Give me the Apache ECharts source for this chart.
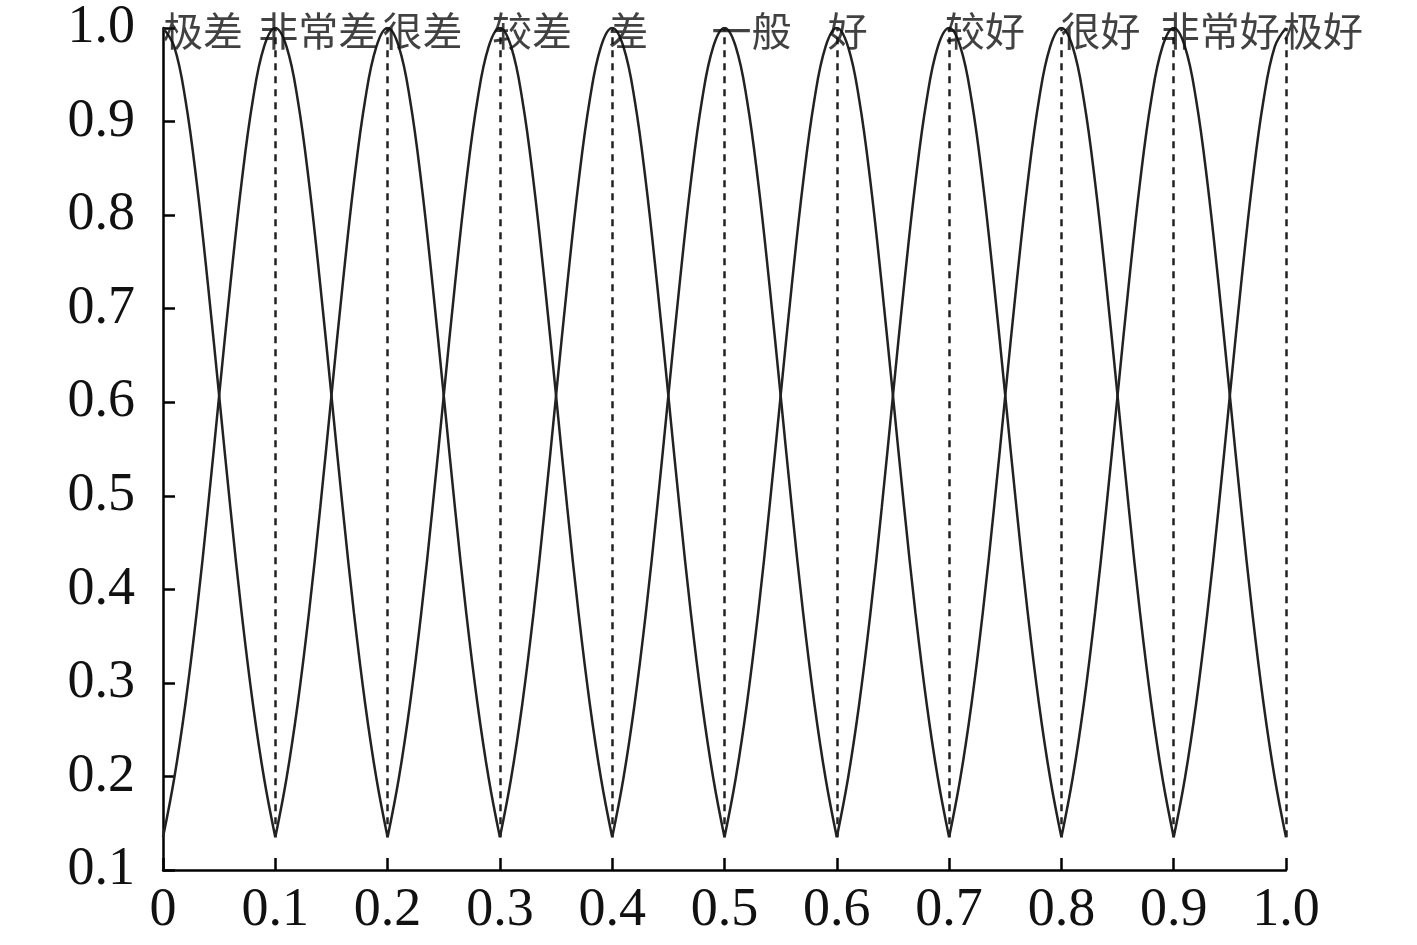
<!DOCTYPE html>
<html>
	<head>
		<meta charset="utf-8">
		<title>评价等级云图</title>
		<script src="https://cdn.jsdelivr.net/npm/echarts@6/dist/echarts.min.js" type="text/javascript" charset="utf-8"></script>
	</head>

	<body style="margin:0;padding:0;background:#fff;">
		<div id="cloud" style="width:1417px;height:945px;"></div>
		<script type="text/javascript">
			// 等级名称与各云的中心
			var levels = ['极差', '非常差', '很差', '较差', '差', '一般', '好', '较好', '很好', '非常好', '极好'];
			var centers = [0, 0.1, 0.2, 0.3, 0.4, 0.5, 0.6, 0.7, 0.8, 0.9, 1.0];
			// 单条曲线形状（相对中心的偏移 -> 隶属度）
			var offsets = [-0.10, -0.09, -0.08, -0.07, -0.06, -0.05, -0.04, -0.03, -0.02, -0.01, 0,
				0.01, 0.02, 0.03, 0.04, 0.05, 0.06, 0.07, 0.08, 0.09, 0.10];
			var profile = [0.135, 0.198, 0.278, 0.375, 0.487, 0.607, 0.726, 0.835, 0.923, 0.980, 1.0,
				0.980, 0.923, 0.835, 0.726, 0.607, 0.487, 0.375, 0.278, 0.198, 0.135];
			// 虚线的下端
			var dashBottom = 0.135;
			// 标签左移像素
			var labelShift = [0, -17, -5, -8, -4, -13, -9, -4, -1, -14, -3];

			var seriesList = [];
			for (var i = 0; i < centers.length; i++) {
				var pts = [];
				for (var j = 0; j < offsets.length; j++) {
					var x = Math.round((centers[i] + offsets[j]) * 100) / 100;
					if (x < 0 || x > 1) continue;
					pts.push([x, profile[j]]);
				}
				var s = {
					type: 'line',
					data: pts,
					smooth: 0.4,
					showSymbol: false,
					symbol: 'none',
					silent: true,
					lineStyle: { color: '#222', width: 2.5 }
				};
				if (centers[i] > 0) {
					s.markLine = {
						silent: true,
						symbol: 'none',
						label: { show: false },
						lineStyle: { color: '#222', width: 2.5, type: [7, 6] },
						data: [[{ coord: [centers[i], dashBottom] }, { coord: [centers[i], 1.0] }]]
					};
				}
				seriesList.push(s);
			}

			// 顶部的等级文字
			var labelData = [];
			for (var k = 0; k < centers.length; k++) {
				labelData.push({
					value: [centers[k], 1.0],
					name: levels[k],
					label: { offset: [labelShift[k], 3] }
				});
			}
			seriesList.push({
				type: 'scatter',
				data: labelData,
				symbolSize: 0,
				silent: true,
				z: 10,
				label: {
					show: true,
					position: 'inside',
					align: 'left',
					verticalAlign: 'middle',
					formatter: function(p) { return p.name; },
					color: '#111',
					fontSize: 40,
					fontFamily: 'Noto Sans CJK SC'
				}
			});

			var myChart = echarts.init(document.getElementById('cloud'));
			var option = {
				animation: false,
				grid: { left: 163, right: 131, top: 28, bottom: 75 },
				xAxis: {
					type: 'value',
					min: 0,
					max: 1,
					interval: 0.1,
					splitLine: { show: false },
					axisLine: { lineStyle: { color: '#000', width: 2.5 } },
					axisTick: { inside: true, length: 12, lineStyle: { color: '#000', width: 2.5 } },
					axisLabel: {
						margin: 14,
						color: '#111',
						fontSize: 54,
						fontFamily: 'Liberation Serif',
						formatter: function(v) {
							if (v === 0) return '0';
							return v.toFixed(1);
						}
					}
				},
				yAxis: {
					type: 'value',
					min: 0.1,
					max: 1.0,
					interval: 0.1,
					splitLine: { show: false },
					axisLine: { show: true, lineStyle: { color: '#000', width: 2.5 } },
					axisTick: { show: true, inside: true, length: 12, lineStyle: { color: '#000', width: 2.5 } },
					axisLabel: {
						margin: 28,
						color: '#111',
						fontSize: 54,
						fontFamily: 'Liberation Serif',
						formatter: function(v) { return v.toFixed(1); }
					}
				},
				series: seriesList
			};
			myChart.setOption(option);
		</script>
	</body>
</html>
